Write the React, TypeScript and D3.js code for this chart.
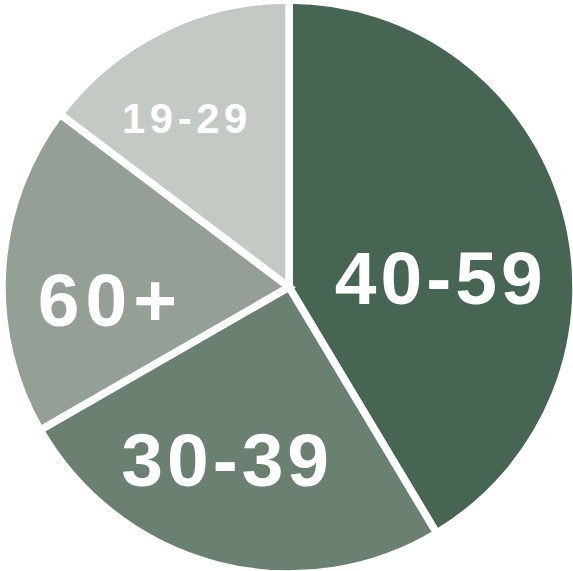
import React from "react";
import * as d3 from "d3";

const categories = ["40-59", "30-39", "60+", "19-29"];
const values = [41.4, 25.3, 18.6, 14.7];
const colors = ["#476553", "#6a8070", "#949f96", "#c3c9c3"];
// label placement (polar, relative to pie centre) and font size
const labelAngles = [86.6, 200.3, 266, 328.2];
const labelRadii = [150, 184, 182, 198];
const labelSizes = [75, 75, 75, 42];
const labelSpacing = [4, 4, 6, 4.5];

const W = 573;
const H = 571;
const cx = 289;
const cy = 287;
const R = 287;
const gap = 7.5;

export default function App() {
  const pie = d3.pie<number>().sort(null).value((d) => d);
  const arcs = pie(values);
  const arcGen = d3.arc<d3.PieArcDatum<number>>().innerRadius(0).outerRadius(R);
  return (
    <svg
      width={W}
      height={H}
      style={{ position: "absolute", left: 0, top: 0, background: "#fff" }}
    >
      <g transform={`translate(${cx},${cy})`}>
        {arcs.map((a, i) => (
          <path
            key={categories[i]}
            d={arcGen(a) || ""}
            fill={colors[i]}
            stroke="#fff"
            strokeWidth={gap}
            strokeLinejoin="miter"
          />
        ))}
        {categories.map((c, i) => {
          const ang = (labelAngles[i] * Math.PI) / 180;
          const x = Math.sin(ang) * labelRadii[i] + labelSpacing[i] / 2;
          const y = -Math.cos(ang) * labelRadii[i];
          return (
            <text
              key={c}
              x={x}
              y={y}
              textAnchor="middle"
              dominantBaseline="central"
              fill="#fff"
              fontFamily="'Liberation Sans', Arial, Helvetica, sans-serif"
              fontWeight="bold"
              fontSize={labelSizes[i]}
              letterSpacing={labelSpacing[i]}
            >
              {c}
            </text>
          );
        })}
      </g>
    </svg>
  );
}
